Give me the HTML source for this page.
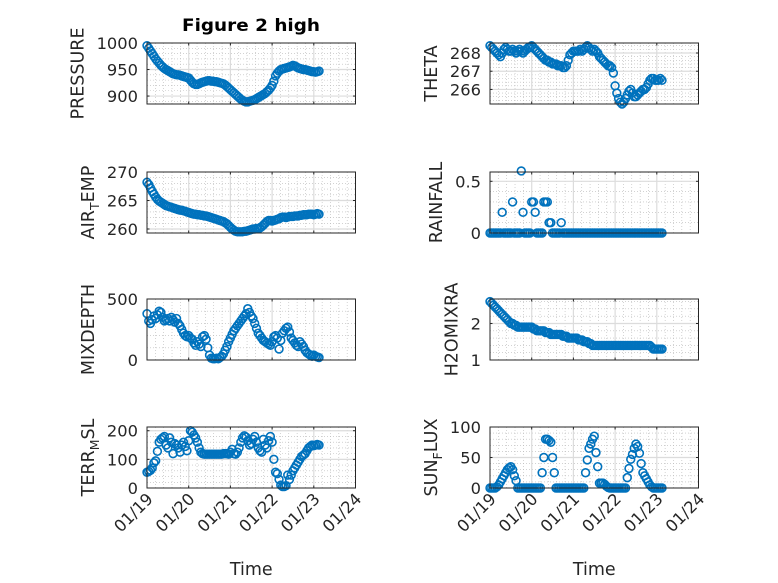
<!DOCTYPE html>
<html><head><meta charset="utf-8"><style>
html,body{margin:0;padding:0;background:#fff;width:778px;height:583px;overflow:hidden}
svg{display:block;font-family:"DejaVu Sans","Liberation Sans",sans-serif}
</style></head><body>
<svg id="fig" width="778" height="583" viewBox="0 0 778 583">
<rect width="778" height="583" fill="#fff"/>
<text x="251" y="31" text-anchor="middle" font-size="16.5" font-weight="bold" fill="#000" textLength="138" lengthAdjust="spacingAndGlyphs">Figure 2 high</text>
</svg>
<script>
const xTickLabels = ["01/19","01/20","01/21","01/22","01/23","01/24"];
const pressure = [995,990,985,980,975,970,966,962,958,955,952,950,948,946,944,942,941,940,940,939,938,937,936,935,
934,930,926,923,922,922,923,925,926,927,928,929,929,928,928,927,927,926,925,924,923,921,918,915,
912,909,906,903,900,897,894,892,890,889,889,890,891,892,893,895,897,899,901,903,905,908,911,915,
920,928,938,943,947,950,951,952,953,954,955,956,958,957,955,953,952,951,950,950,949,948,947,946,
946,945,946,947];
const theta = [268.4,268.3,268.2,268.1,268.0,267.9,267.8,268.0,268.2,268.3,268.2,268.1,268.1,268.2,268.1,268.0,268.1,268.2,268.1,268.0,268.1,268.2,268.3,268.3,
268.4,268.3,268.2,268.1,268.0,267.9,267.8,267.7,267.6,267.6,267.5,267.5,267.4,267.4,267.4,267.3,267.3,267.3,267.2,267.2,267.3,267.6,267.9,268.0,
268.1,268.1,268.1,268.1,268.2,268.1,268.2,268.3,268.4,268.3,268.2,268.1,268.2,268.1,268.0,267.8,267.7,267.6,267.5,267.4,267.3,267.3,267.2,266.9,
266.2,265.8,265.5,265.3,265.2,265.3,265.5,265.7,265.9,266.0,265.8,265.6,265.6,265.7,265.8,265.9,266.0,266.0,266.1,266.3,266.5,266.6,266.6,266.5,
266.5,266.5,266.6,266.5];
const airTemp = [268.2,267.8,267.2,266.6,266.1,265.6,265.2,264.9,264.7,264.5,264.3,264.1,264.0,263.9,263.8,263.7,263.6,263.5,263.4,263.3,263.3,263.2,263.1,263.0,
262.9,262.8,262.7,262.6,262.6,262.5,262.5,262.4,262.4,262.3,262.3,262.2,262.1,262.0,261.9,261.8,261.7,261.6,261.5,261.4,261.3,261.1,260.9,260.6,
260.3,260.0,259.8,259.6,259.5,259.5,259.5,259.5,259.6,259.6,259.7,259.8,259.9,260.0,260.0,260.1,260.1,260.2,260.4,260.7,261.0,261.3,261.5,261.5,
261.4,261.5,261.6,261.7,261.8,262.0,262.1,262.1,262.0,262.1,262.2,262.2,262.2,262.3,262.3,262.3,262.4,262.4,262.5,262.5,262.5,262.6,262.6,262.6,
262.5,262.6,262.7,262.6];
const rainfall = [0,0,0,0,0,0,0,0.2,0,0,0,0,0,0.3,0,0,0,0,0.6,0.2,0,0,0,0,
0.3,0.3,0.2,0,0,0,0,0.3,0.3,0.3,0.1,0.1,0,0,0,0,0,0.1,0,0,0,0,0,0,
0,0,0,0,0,0,0,0,0,0,0,0,0,0,0,0,0,0,0,0,0,0,0,0,
0,0,0,0,0,0,0,0,0,0,0,0,0,0,0,0,0,0,0,0,0,0,0,0,
0,0,0,0];
const mixDepth = [380,320,300,330,360,340,370,400,390,350,320,330,340,320,350,330,310,340,300,280,250,220,200,190,
200,180,170,140,120,150,130,110,190,200,170,100,40,15,10,10,15,10,20,30,50,80,110,150,
180,210,240,260,280,300,320,340,360,380,420,390,360,340,300,260,220,200,180,160,150,140,130,120,
150,190,200,180,90,160,220,240,260,270,230,180,160,140,120,110,150,130,110,80,60,50,40,30,
40,30,25,20];
const h2oMixRa = [2.6,2.55,2.5,2.45,2.4,2.35,2.3,2.25,2.2,2.15,2.1,2.05,2.0,2.0,1.95,1.95,1.9,1.9,1.9,1.9,1.9,1.9,1.9,1.9,
1.9,1.85,1.85,1.8,1.8,1.8,1.8,1.8,1.75,1.75,1.75,1.7,1.7,1.7,1.7,1.7,1.7,1.7,1.65,1.65,1.65,1.6,1.6,1.6,
1.6,1.6,1.6,1.55,1.55,1.55,1.5,1.5,1.5,1.45,1.45,1.4,1.4,1.4,1.4,1.4,1.4,1.4,1.4,1.4,1.4,1.4,1.4,1.4,
1.4,1.4,1.4,1.4,1.4,1.4,1.4,1.4,1.4,1.4,1.4,1.4,1.4,1.4,1.4,1.4,1.4,1.4,1.4,1.4,1.4,1.35,1.3,1.3,
1.3,1.3,1.3,1.3];
const terrMsl = [55,58,62,70,88,95,128,160,170,175,180,150,140,175,160,120,155,150,140,125,150,160,145,130,
165,200,195,185,175,160,140,125,120,118,118,118,118,118,118,118,118,118,118,118,120,120,120,118,
125,135,120,118,125,140,160,175,182,178,165,150,155,170,180,160,140,130,125,170,150,140,165,180,
160,100,55,50,30,10,5,5,8,45,30,45,60,70,80,90,100,110,115,120,130,140,145,150,
148,150,152,150];
const sunFlux = [0,0,0,0,2,5,10,15,20,25,30,33,35,30,20,12,0,0,0,0,0,0,0,0,
0,0,0,0,0,0,25,50,80,80,78,75,50,25,0,0,0,0,0,0,0,0,0,0,
0,0,0,0,0,0,0,25,46,65,72,80,85,58,35,8,8,8,6,3,1,0,0,0,
0,0,0,0,0,0,0,17,32,47,55,65,72,68,57,40,25,20,15,10,5,2,0,0,
0,0,0,0];

const NS="http://www.w3.org/2000/svg";
const svg=document.getElementById('fig');
function mk(tag,attrs,parent){const e=document.createElementNS(NS,tag);for(const k in attrs)e.setAttribute(k,attrs[k]);(parent||svg).appendChild(e);return e;}
const COLS=[147,490], W=208.5, ROWS=[43,172,299,427], H=61;
const panels=[
 {name:'pressure',data:pressure,col:0,row:0,ymin:885,ymax:1000,ticks:[900,950,1000],label:['PRESSURE']},
 {name:'air-temp',data:airTemp,col:0,row:1,ymin:259.3,ymax:270,ticks:[260,265,270],label:['AIR','T','EMP']},
 {name:'mixdepth',data:mixDepth,col:0,row:2,ymin:0,ymax:500,ticks:[0,500],label:['MIXDEPTH']},
 {name:'terr-msl',data:terrMsl,col:0,row:3,ymin:0,ymax:213,ticks:[0,100,200],label:['TERR','M','SL']},
 {name:'theta',data:theta,col:1,row:0,ymin:265.2,ymax:268.55,ticks:[266,267,268],label:['THETA']},
 {name:'rainfall',data:rainfall,col:1,row:1,ymin:0,ymax:0.59,ticks:[0,0.5],label:['RAINFALL']},
 {name:'h2omixra',data:h2oMixRa,col:1,row:2,ymin:1,ymax:2.67,ticks:[1,2],label:['H2OMIXRA']},
 {name:'sun-flux',data:sunFlux,col:1,row:3,ymin:0,ymax:100,ticks:[0,50,100],label:['SUN','F','LUX']}
];
function strW(s){let w=0;for(const c of s)w+=(c==='.'?5.2:10.4);return w;}
panels.forEach(p=>{
 const x0=COLS[p.col], y0=ROWS[p.row], x1=x0+W, y1=y0+H;
 const g=mk('g',{});
 
 
 const xs=d=>x0+d/5*W;
 const ys=v=>y1-(v-p.ymin)/(p.ymax-p.ymin)*H;
 mk('rect',{x:x0,y:y0,width:W,height:H,fill:'#fff'},g);
 for(let i=0;i<25;i++){ if(i%5===0)continue; const x=xs(i/5);
  mk('line',{x1:x,x2:x,y1:y0,y2:y1,stroke:'#b8b8b8','stroke-width':0.6,'stroke-dasharray':'1,2'},g);}
 const step=p.ticks.length>1?p.ticks[1]-p.ticks[0]:1;
 const ms=step/5;
 for(let v=Math.ceil(p.ymin/ms)*ms; v<=p.ymax+1e-9; v+=ms){ const k=Math.round((v-p.ticks[0])/ms); if(k%5===0)continue;
  const y=ys(v); mk('line',{x1:x0,x2:x1,y1:y,y2:y,stroke:'#b8b8b8','stroke-width':0.6,'stroke-dasharray':'1,2'},g);}
 for(let d=1;d<5;d++){const x=xs(d); mk('line',{x1:x,x2:x,y1:y0,y2:y1,stroke:'#dcdcdc','stroke-width':1.2},g);}
 p.ticks.forEach(v=>{const y=ys(v); if(y>y0+1&&y<y1-1) mk('line',{x1:x0,x2:x1,y1:y,y2:y,stroke:'#dcdcdc','stroke-width':1.2},g);});
 for(let d=0;d<=5;d++){const x=xs(d);
  mk('line',{x1:x,x2:x,y1:y1,y2:y1-2.5,stroke:'#262626'},g);mk('line',{x1:x,x2:x,y1:y0,y2:y0+2.5,stroke:'#262626'},g);}
 let maxw=0;
 p.ticks.forEach(v=>{const y=ys(v);
  mk('line',{x1:x0,x2:x0+2.5,y1:y,y2:y,stroke:'#262626'},g);mk('line',{x1:x1,x2:x1-2.5,y1:y,y2:y,stroke:'#262626'},g);
  const t=mk('text',{x:x0-9,y:y+6,'text-anchor':'end','font-size':16.3,fill:'#262626'},g);
  
  
  t.textContent=String(v);
  maxw=Math.max(maxw,strW(String(v)));});
 const dg=mk('g',{fill:'none',stroke:'#0072BD','stroke-width':1.6},g);
 
 
 p.data.forEach((v,i)=>{
  const c=mk('circle',{cx:xs(i/24),cy:ys(v),r:3.9},dg);
  
  
 });
 mk('rect',{x:x0,y:y0,width:W,height:H,fill:'none',stroke:'#262626','stroke-width':1},g);
 const lx=x0-10-maxw-12, ly=(y0+y1)/2;
 const lt=mk('text',{x:0,y:0,transform:`translate(${lx},${ly}) rotate(-90)`,'text-anchor':'middle','font-size':17.5,fill:'#262626'},g);
 
 
 if(p.label.length===1) lt.textContent=p.label[0];
 else{ const a=mk('tspan',{},lt);a.textContent=p.label[0];
  const b=mk('tspan',{dy:5,'font-size':12.5},lt);b.textContent=p.label[1];
  const c=mk('tspan',{dy:-5},lt);c.textContent=p.label[2]; }
 if(p.row===3){
  xTickLabels.forEach((s,d)=>{const x=xs(d);
   const t=mk('text',{x:0,y:0,transform:`translate(${x+7},${y1+12}) rotate(-45)`,'text-anchor':'end','font-size':16.3,fill:'#262626'},g);
   
   
   t.textContent=s;});
  const tt=mk('text',{x:x0+W/2,y:575,'text-anchor':'middle','font-size':17.5,fill:'#262626'},g);
  
  
  tt.textContent='Time';
 }
});
</script>
</body></html>
